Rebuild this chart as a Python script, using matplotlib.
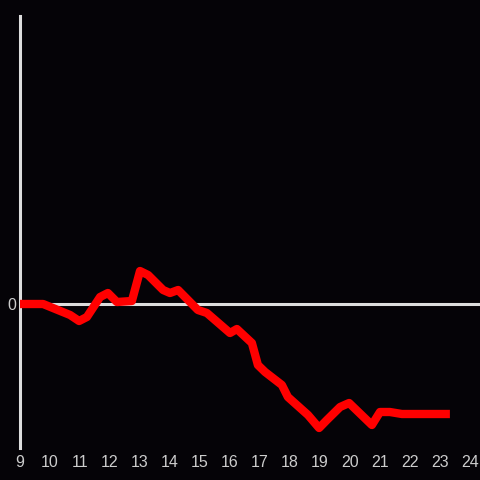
import matplotlib
matplotlib.use('Agg')
import matplotlib.pyplot as plt

# hour of day and change relative to open (arbitrary units)
hours = [9.0, 9.77, 10.67, 10.97, 11.23, 11.67, 11.93, 12.23, 12.73, 13.0,
         13.27, 13.77, 14.0, 14.27, 14.93, 15.23, 16.0, 16.23, 16.73, 16.93,
         17.17, 17.73, 17.93, 18.6, 18.97, 19.23, 19.67, 19.97, 20.73, 21.0,
         21.33, 21.73, 23.33]
change = [0, 0, -11, -17, -13, 7, 11, 2, 3, 33,
          29, 14, 11, 14, -6, -9, -29, -25, -39, -61,
          -68, -81, -93, -111, -124, -116, -103, -99, -121, -108,
          -108, -110, -110]

xticks = list(range(9, 25))
yticks = [0]

BG = '#050307'
AXIS = '#dddddd'

fig = plt.figure(figsize=(4.8, 4.8), dpi=100, facecolor=BG)
ax = fig.add_axes([20 / 480, 32 / 480, 460 / 480, 432 / 480])
ax.set_facecolor(BG)

ax.axhline(0, color=AXIS, lw=2.2, zorder=1)
ax.plot(hours, change, color='#ff0000', lw=6, solid_joinstyle='round',
        solid_capstyle='butt', zorder=3)

ax.set_xlim(9, 9 + 460 / 30)
ax.set_ylim(-144, 288)
ax.set_xticks(xticks)
ax.set_xticklabels([str(t) for t in xticks])
ax.set_yticks(yticks)
ax.set_yticklabels(['0'])

for s in ['top', 'right', 'bottom']:
    ax.spines[s].set_visible(False)
ax.spines['left'].set_color(AXIS)
ax.spines['left'].set_linewidth(2.2)

ax.tick_params(length=0, colors='#cccccc', labelsize=11.5)
ax.tick_params(axis='x', pad=5)
ax.tick_params(axis='y', pad=3)
for lbl in ax.get_xticklabels() + ax.get_yticklabels():
    lbl.set_fontfamily('Liberation Sans')

fig.savefig('out.png', dpi=100, facecolor=BG)
